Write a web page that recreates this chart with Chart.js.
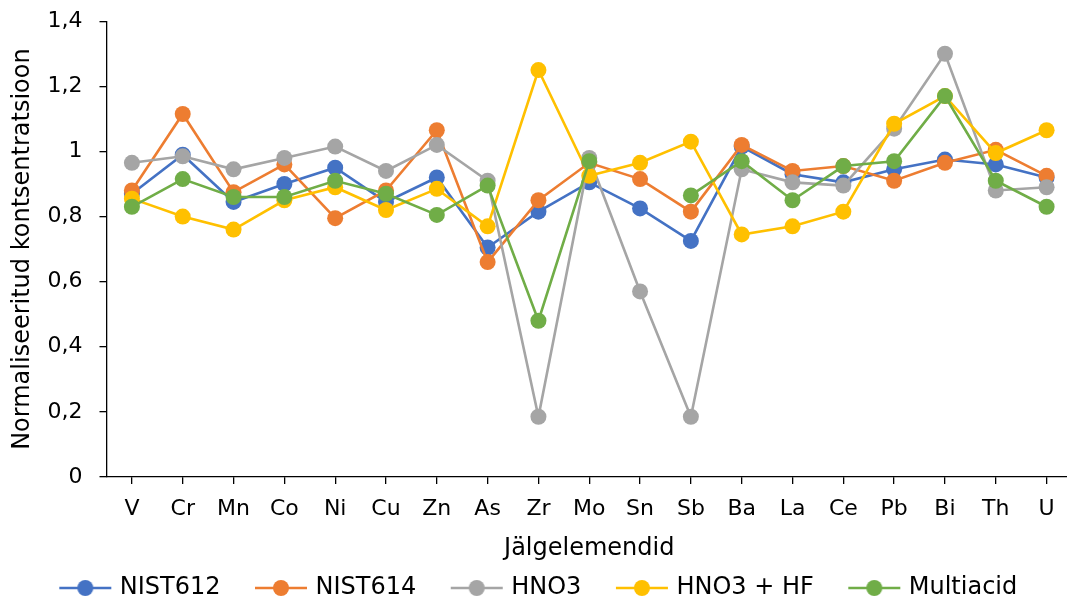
<!DOCTYPE html>
<html>
<head>
<meta charset="utf-8">
<script src="https://cdn.jsdelivr.net/npm/chart.js@4.4.0/dist/chart.umd.min.js"></script>
<style>
  html, body { margin: 0; padding: 0; background: #fff; overflow: hidden; }
  #wrap { position: relative; width: 1067px; height: 601px; overflow: hidden; }
  #chart { position: absolute; left: 0; top: -9px; }
</style>
</head>
<body>
<div id="wrap"><canvas id="chart" width="1080" height="619"></canvas></div>
<script>
// Trace elements on the x axis
const elements = ["V", "Cr", "Mn", "Co", "Ni", "Cu", "Zn", "As", "Zr", "Mo", "Sn", "Sb", "Ba", "La", "Ce", "Pb", "Bi", "Th", "U"];

// Normalised concentrations per digestion / reference material
const nist612   = [0.87, 0.99, 0.845, 0.90, 0.95, 0.845, 0.92, 0.705, 0.815, 0.905, 0.825, 0.725, 1.015, 0.93, 0.905, 0.945, 0.975, 0.96, 0.92];
const nist614   = [0.88, 1.115, 0.875, 0.96, 0.795, 0.88, 1.065, 0.66, 0.85, 0.965, 0.915, 0.815, 1.02, 0.94, 0.955, 0.91, 0.965, 1.005, 0.925];
const hno3      = [0.965, 0.985, 0.945, 0.98, 1.015, 0.94, 1.02, 0.91, 0.185, 0.98, 0.57, 0.185, 0.945, 0.905, 0.895, 1.07, 1.30, 0.88, 0.89];
const hno3hf    = [0.855, 0.80, 0.76, 0.85, 0.89, 0.82, 0.885, 0.77, 1.25, 0.925, 0.965, 1.03, 0.745, 0.77, 0.815, 1.085, 1.17, 0.995, 1.065];
const multiacid = [0.83, 0.915, 0.86, 0.86, 0.91, 0.87, 0.805, 0.895, 0.48, 0.97, null, 0.865, 0.97, 0.85, 0.955, 0.97, 1.17, 0.91, 0.83];

const seriesNames = ["NIST612", "NIST614", "HNO3", "HNO3 + HF", "Multiacid"];
const seriesData = [nist612, nist614, hno3, hno3hf, multiacid];
const seriesColors = ["#4472C4", "#ED7D31", "#A5A5A5", "#FFC000", "#70AD47"];

const yMin = 0, yMax = 1.4, yStep = 0.2;
const FONT = "'DejaVu Sans', Verdana, sans-serif";

// line-with-dot glyph for the legend (a bit wider than its legend box)
function legendGlyph(color) {
  const c = document.createElement("canvas");
  c.width = 54; c.height = 18;
  const g = c.getContext("2d");
  g.strokeStyle = color;
  g.lineWidth = 2.6;
  g.beginPath(); g.moveTo(1, 9); g.lineTo(53, 9); g.stroke();
  g.fillStyle = color;
  g.beginPath(); g.arc(27, 9, 8, 0, Math.PI * 2); g.fill();
  return c;
}
const glyphs = seriesColors.map(legendGlyph);

const datasets = seriesNames.map((name, i) => ({
  label: name,
  data: seriesData[i],
  borderColor: seriesColors[i],
  backgroundColor: seriesColors[i],
  borderWidth: 2.6,
  pointRadius: 8,
  pointHoverRadius: 8,
  pointBorderWidth: 0,
  pointStyle: "circle",
  tension: 0,
  spanGaps: false,
  order: seriesNames.length - i   // later series drawn on top
}));

const fmt = v => Number(v.toFixed(1)).toString().replace(".", ",");

new Chart(document.getElementById("chart"), {
  type: "line",
  data: { labels: elements, datasets },
  options: {
    responsive: false,
    animation: false,
    devicePixelRatio: 1,
    layout: { padding: { top: 2, left: 0, right: 0, bottom: 0 } },
    plugins: {
      tooltip: { enabled: false },
      legend: {
        position: "bottom",
        labels: {
          usePointStyle: true,
          pointStyleWidth: 45,
          padding: 38,
          color: "#000",
          font: { family: FONT, size: 24 },
          sort: (a, b) => a.datasetIndex - b.datasetIndex,
          generateLabels: chart => {
            const items = Chart.defaults.plugins.legend.labels.generateLabels(chart);
            items.forEach(it => { it.pointStyle = glyphs[it.datasetIndex]; });
            return items;
          }
        }
      }
    },
    scales: {
      x: {
        offset: true,
        afterFit: s => { s.height = 61; },
        grid: { display: true, offset: false, drawOnChartArea: false, tickLength: 7, color: "#000", lineWidth: 1.3 },
        border: { color: "#000", width: 1.3 },
        ticks: { color: "#000", font: { family: FONT, size: 22 }, padding: 12, maxRotation: 0, autoSkip: false },
        title: { display: true, text: "Jälgelemendid", color: "#000", font: { family: FONT, size: 24 }, padding: { top: 0, bottom: -25.4 } }
      },
      y: {
        min: yMin,
        max: yMax,
        afterFit: s => { s.width = 106.5; },
        grid: { display: true, drawOnChartArea: false, tickLength: 7, color: "#000", lineWidth: 1.3 },
        border: { color: "#000", width: 1.3 },
        ticks: { stepSize: yStep, color: "#000", font: { family: FONT, size: 22 }, padding: 17, callback: v => fmt(v) },
        title: { display: true, text: "Normaliseeritud kontsentratsioon", color: "#000", font: { family: FONT, size: 24 }, padding: { top: 8, bottom: 4 } }
      }
    }
  }
});
</script>
</body>
</html>
